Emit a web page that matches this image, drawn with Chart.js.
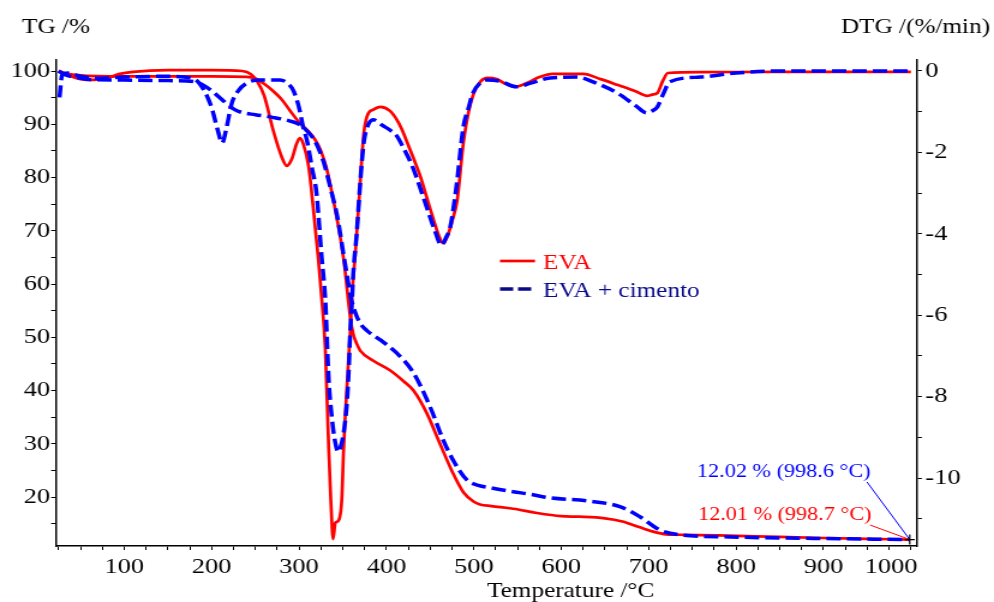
<!DOCTYPE html>
<html>
<head>
<meta charset="utf-8">
<script src="https://cdn.jsdelivr.net/npm/chart.js@4.4.1/dist/chart.umd.min.js"></script>
<style>
  html, body { margin: 0; padding: 0; background: #fff; overflow: hidden; }
  /* the source figure is stretched sideways, so the canvas is too */
  #wrap { width: 828px; height: 602px; transform: scaleX(1.2005); transform-origin: 0 0; }
</style>
</head>
<body>
<div id="wrap"><canvas id="tga" width="828" height="602"></canvas></div>
<script>
const S = 1.2005; // horizontal stretch of the page

// ---- data ----
const seriesNames = ["EVA", "EVA + cimento"];

const evaTgTemp = [25, 35, 50, 70, 100, 150, 200, 240, 250, 260, 270, 280, 290, 300, 310, 318, 325, 332, 339, 347, 352, 356, 359, 362, 366, 370, 385, 404, 420, 431, 446, 461, 476, 488, 500, 507, 520, 545, 572, 600, 620, 650, 670, 690, 705, 720, 740, 780, 850, 900, 950, 998.7];
const evaTg = [100, 99.5, 99.2, 99.05, 99.0, 99.0, 99.0, 98.9, 98.6, 97.6, 96.3, 94.7, 92.5, 90.4, 88.8, 87.2, 85.0, 81.4, 76.0, 69.0, 63.5, 57.5, 53.3, 50.6, 48.8, 47.5, 45.6, 43.8, 41.7, 40.0, 35.8, 30.1, 24.5, 20.9, 19.1, 18.6, 18.3, 17.8, 17.0, 16.4, 16.3, 16.0, 15.4, 14.3, 13.5, 13.0, 12.9, 12.8, 12.5, 12.3, 12.15, 12.01];

const cimTgTemp = [25, 32, 45, 60, 100, 150, 180, 190, 200, 210, 218, 226, 235, 250, 270, 290, 300, 310, 318, 328, 336, 344, 350, 355, 360, 364, 370, 378, 393, 412, 431, 450, 465, 476, 492, 505, 520, 545, 565, 585, 633, 667, 690, 713, 736, 793, 850, 900, 950, 998.6];
const cimTg = [100, 99.3, 98.8, 98.4, 98.3, 98.2, 98.0, 97.4, 96.3, 94.9, 93.8, 92.8, 92.2, 91.8, 91.3, 90.6, 90.0, 88.6, 86.9, 83.0, 78.0, 72.5, 66.5, 61.5, 57.0, 54.8, 52.6, 51.2, 49.5, 47.0, 43.3, 36.9, 30.7, 27.0, 23.2, 22.2, 21.7, 21.0, 20.5, 19.9, 19.2, 18.2, 16.3, 13.8, 12.9, 12.5, 12.3, 12.2, 12.1, 12.02];

const evaDtgTemp = [25, 35, 50, 65, 80, 95, 110, 150, 200, 235, 245, 252, 260, 271, 280, 286, 292, 297, 301, 305, 311, 316, 322, 326, 330, 334, 336.5, 339, 341.5, 345, 349, 351, 355, 358.5, 361, 364, 367, 370, 374, 378, 385, 393, 404, 412, 418, 424, 432, 439, 446, 454, 460, 465, 470, 475, 481, 488, 494, 500, 508, 516, 526, 535, 547, 560, 575, 590, 625, 645, 664, 685, 698, 704, 710, 716, 722, 760, 850, 1000];
const evaDtg = [0, -0.1, -0.2, -0.22, -0.18, -0.07, -0.02, 0.02, 0.02, 0.0, -0.08, -0.25, -0.6, -1.5, -2.1, -2.33, -2.15, -1.8, -1.65, -1.8, -2.35, -3.3, -4.6, -5.6, -6.8, -9.3, -10.6, -11.5, -11.1, -11.05, -10.5, -9.3, -7.7, -6.45, -5.4, -4.6, -3.7, -2.75, -1.55, -1.1, -0.95, -0.88, -0.98, -1.2, -1.45, -1.77, -2.2, -2.6, -3.1, -3.66, -4.05, -4.23, -4.05, -3.7, -3.17, -1.77, -1.0, -0.54, -0.25, -0.17, -0.2, -0.3, -0.39, -0.3, -0.15, -0.07, -0.07, -0.2, -0.34, -0.5, -0.61, -0.58, -0.54, -0.25, -0.05, -0.03, -0.02, -0.02];

const cimDtgTemp = [26, 29, 35, 50, 70, 100, 150, 180, 192, 200, 207, 212, 217, 223, 230, 240, 255, 278, 288, 294, 300, 305, 309, 315, 320, 326, 330, 334, 337.5, 341, 345, 348, 351, 355, 357, 358.5, 360.5, 362, 366, 370, 374, 378, 385, 395, 404, 412, 419, 430, 446, 455, 463, 468, 473, 480, 488, 494, 499, 507, 515, 530, 549, 565, 587, 618, 640, 664, 685, 698, 705, 710, 717, 724, 759, 800, 850, 900, 1000];
const cimDtg = [-0.65, -0.1, -0.05, -0.13, -0.18, -0.15, -0.13, -0.2, -0.5, -0.9, -1.45, -1.77, -1.4, -0.8, -0.5, -0.3, -0.22, -0.22, -0.32, -0.5, -0.9, -1.4, -1.7, -2.4, -3.0, -4.6, -5.6, -7.6, -8.5, -9.07, -9.36, -9.2, -8.9, -8.1, -7.3, -6.45, -5.7, -5.0, -4.0, -2.75, -1.77, -1.38, -1.2, -1.33, -1.45, -1.6, -1.87, -2.36, -3.34, -3.9, -4.28, -4.1, -3.83, -2.85, -1.38, -0.9, -0.54, -0.3, -0.22, -0.25, -0.39, -0.3, -0.17, -0.15, -0.3, -0.54, -0.85, -1.03, -0.97, -0.88, -0.55, -0.27, -0.15, -0.05, 0.0, 0.0, 0.0];

// residue at the end of each run: EVA, EVA + cimento
const finalTemp = [998.7, 998.6];
const finalMass = [12.01, 12.02];

const tempTicks = [100, 200, 300, 400, 500, 600, 700, 800, 900, 1000];
const tgTicks = [20, 30, 40, 50, 60, 70, 80, 90, 100];
const dtgTicks = [0, -2, -4, -6, -8, -10];

// ---- styles ----
const RED = "#ff0000";
const BLUE = "#0000ff";
const NAVY = "#0a0a8c";
const FONT = '"Liberation Serif", "Times New Roman", serif';

function pts(xs, ys) {
  return xs.map((x, i) => ({ x, y: ys[i] }));
}

function lineSet(label, xs, ys, axis, color, dashed) {
  return {
    label,
    data: pts(xs, ys),
    yAxisID: axis,
    borderColor: color,
    borderWidth: dashed ? 3.5 : 2.7,
    borderDash: dashed ? [12, 5] : [],
    pointRadius: 0,
    cubicInterpolationMode: "monotone",
    fill: false,
    order: dashed ? 0 : 1,
  };
}

const overlay = {
  id: "overlay",
  afterDraw(chart) {
    const { ctx, scales } = chart;
    ctx.save();
    ctx.textBaseline = "middle";
    ctx.font = "21px " + FONT;
    ctx.fillStyle = "#000";
    ctx.textAlign = "left";
    ctx.fillText("TG /%", 22 / S, 27);
    ctx.textAlign = "right";
    ctx.fillText("DTG /(%/min)", 990 / S, 27);
    ctx.textAlign = "left";
    ctx.fillText("Temperature /°C", 487 / S, 591);

    // legend in the middle of the plot
    const legendY = [261, 289];
    const legendLine = [RED, NAVY];
    const legendText = [RED, NAVY];
    for (let i = 0; i < 2; i++) {
      ctx.beginPath();
      ctx.strokeStyle = legendLine[i];
      ctx.lineWidth = i ? 3.5 : 2.7;
      ctx.setLineDash(i ? [11, 4] : []);
      ctx.moveTo(500 / S, legendY[i]);
      ctx.lineTo(535 / S, legendY[i]);
      ctx.stroke();
      ctx.setLineDash([]);
      ctx.fillStyle = legendText[i];
      ctx.fillText(seriesNames[i], 543 / S, legendY[i] + 2);
    }

    // end-of-run labels with leader lines
    const labelPos = [
      { x: 698, y: 515, lx: 870, ly: 525, color: RED },
      { x: 697, y: 472, lx: 867, ly: 482, color: BLUE },
    ];
    ctx.font = "18.5px " + FONT;
    for (let i = 0; i < 2; i++) {
      const p = labelPos[i];
      const px = scales.x.getPixelForValue(finalTemp[i]);
      const py = scales.yTg.getPixelForValue(finalMass[i]);
      ctx.fillStyle = p.color;
      ctx.fillText(finalMass[i].toFixed(2) + " % (" + finalTemp[i].toFixed(1) + " °C)", p.x / S, p.y);
      ctx.beginPath();
      ctx.strokeStyle = p.color;
      ctx.lineWidth = 1;
      ctx.moveTo(p.lx / S, p.ly);
      ctx.lineTo(px, py);
      ctx.stroke();
    }
    const cx = scales.x.getPixelForValue(finalTemp[0]);
    const cy = scales.yTg.getPixelForValue(finalMass[0]);
    ctx.beginPath();
    ctx.strokeStyle = "#000";
    ctx.lineWidth = 1.2;
    ctx.moveTo(cx - 5 / S, cy);
    ctx.lineTo(cx + 5 / S, cy);
    ctx.moveTo(cx, cy - 5);
    ctx.lineTo(cx, cy + 5);
    ctx.stroke();
    ctx.restore();
  },
};

const tickFont = { family: FONT, size: 22 };

// last temperature label sits left of its tick, as in the source
function tempLabel(v) {
  const r = Math.round(v);
  if (!tempTicks.includes(r)) return "";
  return r === 1000 ? String(r) + "      " : String(r);
}

new Chart(document.getElementById("tga"), {
  type: "line",
  data: {
    datasets: [
      lineSet(seriesNames[0], evaTgTemp, evaTg, "yTg", RED, false),
      lineSet(seriesNames[1], cimTgTemp, cimTg, "yTg", BLUE, true),
      lineSet(seriesNames[0], evaDtgTemp, evaDtg, "yDtg", RED, false),
      lineSet(seriesNames[1], cimDtgTemp, cimDtg, "yDtg", BLUE, true),
    ],
  },
  options: {
    responsive: false,
    animation: false,
    devicePixelRatio: 1,
    layout: { padding: { top: 60, left: 0, right: 0, bottom: 0 } },
    plugins: {
      legend: { display: false },
      tooltip: { enabled: false },
    },
    scales: {
      x: {
        type: "linear",
        min: 22,
        max: 1007,
        afterFit(scale) { scale.height = 56; },
        border: { display: true, color: "#000", width: 1.5 },
        grid: { drawOnChartArea: false, tickLength: 4, color: "#000" },
        ticks: {
          stepSize: 25,
          includeBounds: false,
          autoSkip: false,
          maxRotation: 0,
          padding: 4,
          color: "#000",
          font: tickFont,
          callback: tempLabel,
        },
      },
      yTg: {
        position: "left",
        min: 10.8,
        max: 102.07,
        afterFit(scale) { scale.width = 56 / S; },
        border: { display: true, color: "#000", width: 1.5 },
        grid: { drawOnChartArea: false, tickLength: 4, color: "#000" },
        ticks: {
          stepSize: 5,
          includeBounds: false,
          autoSkip: false,
          padding: 1,
          color: "#000",
          font: tickFont,
          callback: (v) => (tgTicks.includes(Math.round(v)) ? String(Math.round(v)) : ""),
        },
      },
      yDtg: {
        position: "right",
        min: -11.67,
        max: 0.27,
        afterFit(scale) { scale.width = 828 - 917 / S; },
        border: { display: true, color: "#000", width: 1.5 },
        grid: { drawOnChartArea: false, tickLength: 4, color: "#000" },
        ticks: {
          stepSize: 1,
          includeBounds: false,
          autoSkip: false,
          padding: 3,
          color: "#000",
          font: tickFont,
          callback: (v) => (dtgTicks.includes(Math.round(v)) ? String(Math.round(v)) : ""),
        },
      },
    },
  },
  plugins: [overlay],
});
</script>
</body>
</html>
